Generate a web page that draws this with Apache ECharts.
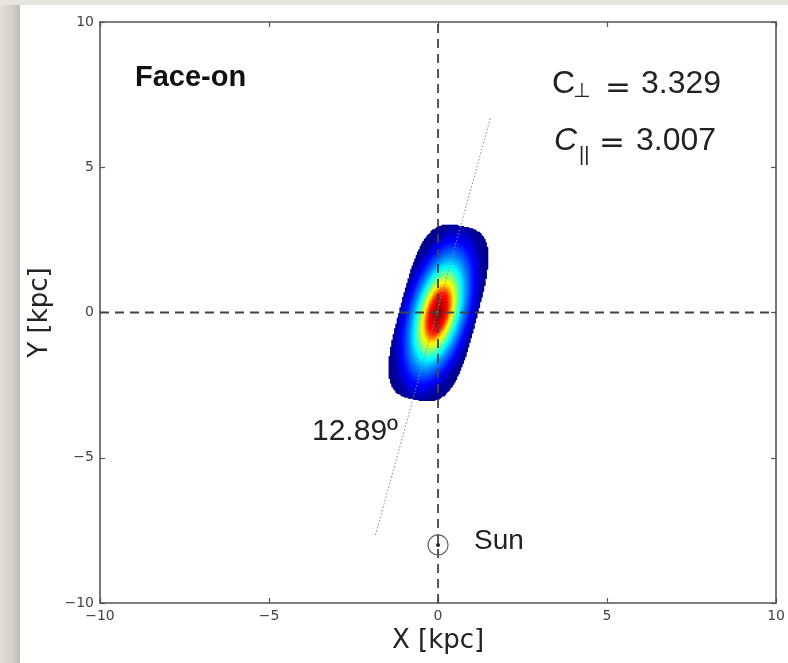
<!DOCTYPE html>
<html>
<head>
<meta charset="utf-8">
<script src="https://cdn.jsdelivr.net/npm/echarts@6/dist/echarts.min.js"></script>
<style>
html,body{margin:0;padding:0;background:#e8e5de;}
#chart{width:788px;height:663px;}
</style>
</head>
<body>
<div id="chart"></div>
<script>
// ---- data ----
const axisMin = -10, axisMax = 10, tickStep = 5;
const panelTitle = 'Face-on';
const xAxisTitle = 'X [kpc]';
const yAxisTitle = 'Y [kpc]';
const barAngleDeg = 12.89;          // bar angle label
const cPerp = 3.329;                 // boxiness (face-on)
const cPar = 3.007;
const barHalfLength = 3.05;          // kpc, outer edge along major axis
const barHalfWidth = 1.13;           // kpc, outer edge along minor axis
// normalised density (0..1, jet scale) versus normalised bar radius, read from colours
const profileR = [0, 0.13, 0.24, 0.32, 0.42, 0.52, 0.65, 0.81, 0.97, 1.0, 1.2];
const profileV = [1.0, 0.93, 0.84, 0.68, 0.53, 0.39, 0.26, 0.14, 0.05, 0.03, 0.0];
const zeroLineV = [[0, -10], [0, 10]];
const zeroLineH = [[-10, 0], [10, 0]];
const barAxisLine = [[-1.85, -7.66], [1.55, 6.70]];
const sunPos = [[0, -8]];
const sunLabel = 'Sun';
const angleLabel = '12.89º';

// ---- density cells built from the bar model parameters ----
function profileAt(r) {
  if (r >= profileR[profileR.length - 1]) return 0;
  for (let i = 1; i < profileR.length; i++) {
    if (r <= profileR[i]) {
      const t = (r - profileR[i - 1]) / (profileR[i] - profileR[i - 1]);
      return profileV[i - 1] + t * (profileV[i] - profileV[i - 1]);
    }
  }
  return 0;
}
const cellStep = 0.04;
const th = barAngleDeg * Math.PI / 180;
const cs = Math.cos(th), sn = Math.sin(th);
const cells = [];
for (let ix = -46; ix <= 46; ix++) {
  for (let iy = -88; iy <= 88; iy++) {
    const x = ix * cellStep, y = iy * cellStep;
    const u = x * cs - y * sn;
    const v = x * sn + y * cs;
    const rb = Math.pow(Math.pow(Math.abs(u) / barHalfWidth, cPerp) + Math.pow(Math.abs(v) / barHalfLength, cPerp), 1 / cPerp);
    if (rb > 1) continue;
    const re = Math.sqrt(Math.pow(u / barHalfWidth, 2) + Math.pow(v / barHalfLength, 2));
    cells.push([x, y, profileAt(re)]);
  }
}

const jet = ['#00007f', '#0000ff', '#007fff', '#00ffff', '#7fff7f', '#ffff00', '#ff7f00', '#ff0000', '#7f0000'];
const minusFmt = v => (v < 0 ? '\u2212' + Math.abs(v) : String(v));
const tickLabel = {color: '#444', fontSize: 14, fontFamily: 'DejaVu Sans', formatter: minusFmt};
const frameLine = {show: true, onZero: false, lineStyle: {color: '#555', width: 1.6}};
const inTick = {show: true, inside: true, length: 5, lineStyle: {color: '#555', width: 1.2}};

const chart = echarts.init(document.getElementById('chart'), null, {renderer: 'canvas'});
chart.setOption({
  animation: false,
  backgroundColor: 'transparent',
  grid: {left: 100, right: 8, top: 22, bottom: 60},
  graphic: [
    {type: 'rect', z: -10, silent: true, shape: {x: 0, y: 0, width: 788, height: 663}, style: {fill: '#e8e5de'}},
    {type: 'rect', z: -9, silent: true, shape: {x: 0, y: 5, width: 20, height: 658},
      style: {fill: new echarts.graphic.LinearGradient(0, 0, 1, 0, [{offset: 0, color: '#e3e0d9'}, {offset: 0.7, color: '#cfcdc7'}, {offset: 1, color: '#bdbcb7'}])}},
    {type: 'rect', z: -8, silent: true, shape: {x: 20, y: 5, width: 768, height: 658}, style: {fill: '#ffffff'}},
    {type: 'text', z: 20, left: 135, top: 63, style: {text: panelTitle, font: 'bold 29px "Liberation Sans"', fill: '#111'}},
    {type: 'text', z: 20, x: 552, y: 84, style: {text: 'C', font: '32px "Liberation Sans"', fill: '#222', verticalAlign: 'middle'}},
    {type: 'text', z: 20, x: 573, y: 92, style: {text: '\u22a5', font: '20px "DejaVu Sans"', fill: '#222', verticalAlign: 'middle'}},
    {type: 'text', z: 20, x: 605, y: 89, style: {text: '=', font: '31px "DejaVu Sans"', fill: '#222', verticalAlign: 'middle'}},
    {type: 'text', z: 20, x: 641, y: 84, style: {text: cPerp.toFixed(3), font: '32px "Liberation Sans"', fill: '#222', verticalAlign: 'middle'}},
    {type: 'text', z: 20, x: 554, y: 141, style: {text: 'C', font: 'italic 32px "Liberation Sans"', fill: '#222', verticalAlign: 'middle'}},
    {type: 'text', z: 20, x: 579, y: 155, style: {text: '||', font: '20px "Liberation Sans"', fill: '#222', verticalAlign: 'middle'}},
    {type: 'text', z: 20, x: 599, y: 144, style: {text: '=', font: '31px "DejaVu Sans"', fill: '#222', verticalAlign: 'middle'}},
    {type: 'text', z: 20, x: 636, y: 141, style: {text: cPar.toFixed(3), font: '32px "Liberation Sans"', fill: '#222', verticalAlign: 'middle'}},
    {type: 'text', z: 20, x: 312, y: 432, style: {text: angleLabel, font: '30px "Liberation Sans"', fill: '#222', verticalAlign: 'middle'}},
    {type: 'text', z: 20, x: 474, y: 541, style: {text: sunLabel, font: '28px "Liberation Sans"', fill: '#222', verticalAlign: 'middle'}}
  ],
  visualMap: {type: 'continuous', show: false, min: 0, max: 1, dimension: 2, seriesIndex: 0, inRange: {color: jet}},
  xAxis: [
    {type: 'value', min: axisMin, max: axisMax, interval: tickStep, position: 'bottom',
      axisLine: frameLine, axisTick: inTick, splitLine: {show: false},
      axisLabel: Object.assign({margin: 6}, tickLabel),
      name: xAxisTitle, nameLocation: 'middle', nameGap: 23,
      nameTextStyle: {fontSize: 26, fontFamily: 'DejaVu Sans', color: '#222', verticalAlign: 'top'}},
    {type: 'value', min: axisMin, max: axisMax, interval: tickStep, position: 'top',
      axisLine: frameLine, axisTick: inTick, splitLine: {show: false}, axisLabel: {show: false}}
  ],
  yAxis: [
    {type: 'value', min: axisMin, max: axisMax, interval: tickStep, position: 'left',
      axisLine: frameLine, axisTick: inTick, splitLine: {show: false},
      axisLabel: Object.assign({margin: 6}, tickLabel),
      name: yAxisTitle, nameLocation: 'middle', nameGap: 44,
      nameTextStyle: {fontSize: 26, fontFamily: 'DejaVu Sans', color: '#222'}},
    {type: 'value', min: axisMin, max: axisMax, interval: tickStep, position: 'right',
      axisLine: frameLine, axisTick: inTick, splitLine: {show: false}, axisLabel: {show: false}}
  ],
  series: [
    {type: 'custom', z: 2, silent: true, data: cells, encode: {x: 0, y: 1},
      renderItem: function (params, api) {
        const x = api.value(0), y = api.value(1), h = cellStep / 2;
        const p0 = api.coord([x - h, y + h]);
        const p1 = api.coord([x + h, y - h]);
        return {type: 'rect', shape: {x: p0[0], y: p0[1], width: p1[0] - p0[0] + 0.8, height: p1[1] - p0[1] + 0.8},
          style: {fill: api.visual('color')}};
      }},
    {type: 'line', z: 4, silent: true, data: zeroLineV, symbol: 'none',
      lineStyle: {color: '#444', width: 1.8, type: [9, 6]}},
    {type: 'line', z: 4, silent: true, data: zeroLineH, symbol: 'none',
      lineStyle: {color: '#444', width: 1.8, type: [9, 6]}},
    {type: 'line', z: 5, silent: true, data: barAxisLine, symbol: 'none',
      lineStyle: {color: '#888', width: 1, type: [1.5, 2]}},
    {type: 'scatter', z: 6, silent: true, data: sunPos, symbol: 'circle', symbolSize: 20,
      itemStyle: {color: 'rgba(255,255,255,0)', borderColor: '#666', borderWidth: 1.2, opacity: 1}},
    {type: 'scatter', z: 7, silent: true, data: sunPos, symbol: 'circle', symbolSize: 4,
      itemStyle: {color: '#222', opacity: 1}}
  ]
});
</script>
</body>
</html>
